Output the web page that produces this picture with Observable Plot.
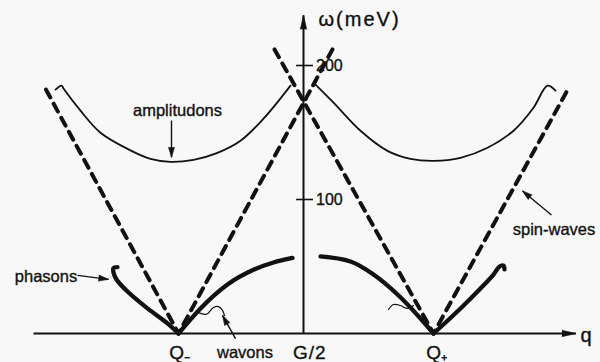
<!DOCTYPE html>
<html>
<head>
<meta charset="utf-8">
<script src="https://cdn.jsdelivr.net/npm/d3@7"></script>
<script src="https://cdn.jsdelivr.net/npm/@observablehq/plot@0.6"></script>
<style>
  html, body { margin: 0; padding: 0; background: #f8f8f8; }
  #chart svg { display: block; background: #f8f8f8; }
</style>
</head>
<body>
<div id="chart"></div>
<script>
// Excitation spectrum of an incommensurate spin-density wave.
// q is measured from the zone point G/2 (q = 0); ω in meV.

const qPoints = ["Q\u208B", "G/2", "Q\u208A"];          // x-axis labels
const qPointValues = [-0.99, 0.05, 1.065];

const yTicks = [100, 200];

// Spin-wave cones (dashed), one V per satellite Q− and Q+
const spinWaveMinus = [[-2.06, 182], [-1.0, 0], [0.232, 212]];
const spinWavePlus  = [[-0.232, 212], [1.04, 0], [2.12, 183]];

// Amplitudon branches (thin solid)
const amplitudonMinus = [
  [-1.984, 182], [-1.936, 185], [-1.92, 182.8], [-1.784, 166.3], [-1.624, 149.8],
  [-1.408, 137.8], [-1.224, 130.3], [-1.064, 128.1], [-0.88, 129.6], [-0.688, 134.8],
  [-0.504, 143.8], [-0.32, 160.3], [-0.104, 185]
];
const amplitudonPlus = [
  [0.088, 186.5], [0.24, 172.3], [0.456, 151.3], [0.672, 136.3], [0.856, 130.3],
  [1.04, 128.8], [1.256, 131.1], [1.472, 138.6], [1.68, 151.3], [1.84, 168.5],
  [1.952, 185], [2.016, 181.3]
];

// Phason / wavon branches (thick solid)
const phasonMinus = [
  [-1.488, 49.6], [-1.52, 48.9], [-1.52, 45.5], [-1.496, 40.3], [-1.408, 31.3],
  [-1.248, 18.7], [-1.088, 7.5], [-1.0, 0]
];
const wavonMinus = [
  [-1.0, 0], [-0.824, 18.7], [-0.608, 36.6], [-0.4, 47.6], [-0.24, 53.0], [-0.088, 56.4]
];
const wavonPlus = [
  [0.136, 57.5], [0.376, 53.7], [0.56, 44], [0.752, 29.1], [0.936, 11.2], [1.04, 0]
];
const phasonPlus = [
  [1.04, 0], [1.256, 18.7], [1.416, 33.6], [1.52, 44], [1.568, 50], [1.6, 50.7], [1.608, 47.8]
];

// Small wavy markers on the wavon branches
const squiggleMinus = [[-0.84, 15.6], [-0.776, 14.4], [-0.72, 19.4], [-0.68, 20.1], [-0.648, 17.2], [-0.632, 13.4]];
const squigglePlus  = [[0.68, 17.9], [0.72, 21.6], [0.776, 20.9], [0.832, 18.7], [0.88, 20.9]];

// Annotations: text, its position, and the pointer arrow (tail → tip)
const noteTexts = ["amplitudons", "phasons", "spin-waves", "wavons"];
const notePos   = [[-1.008, 166.3], [-2.06, 42.7], [2.004, 77.2], [-0.468, -14.4]];
const noteTails = [[-1.056, 158.9], [-1.808, 43.4], [1.984, 88.4], [-0.544, -3.8]];
const noteTips  = [[-1.056, 131.5], [-1.56, 40.4], [1.752, 106.4], [-0.648, 13.5]];

// Axis extents
const qAxis = [-2.16, 2.18];
const wAxis = [0, 237.5];

const W = 600, H = 362;
const X_DOMAIN = [-2.424, 2.376];
const Y_DOMAIN = [-21.64, 248.5];
const ink = "#111";
const font = "'Liberation Sans', Arial, Helvetica, sans-serif";

const sx = Plot.scale({x: {domain: X_DOMAIN, range: [0, W]}});
const sy = Plot.scale({y: {domain: Y_DOMAIN, range: [H, 0]}});
// rotation (degrees clockwise from up) of the screen direction tail → tip
const heading = (a, b) => {
  const dx = sx.apply(b[0]) - sx.apply(a[0]);
  const dy = sy.apply(b[1]) - sy.apply(a[1]);
  return Math.atan2(dx, -dy) * 180 / Math.PI;
};

const notes = noteTexts.map((t, i) => ({
  text: t, pos: notePos[i], tail: noteTails[i], tip: noteTips[i],
  rotate: heading(noteTails[i], noteTips[i])
}));
const axisHeads = [
  {tip: [qAxis[1], 0], rotate: heading([qAxis[0], 0], [qAxis[1], 0])},
  {tip: [0, wAxis[1]], rotate: heading([0, wAxis[0]], [0, wAxis[1]])}
];

const P = d => d[0], V = d => d[1];
const curve = (data, o) => Plot.line(data, {x: P, y: V, stroke: ink, curve: "catmull-rom",
  strokeLinecap: "round", strokeLinejoin: "round", ...o});
const label = {fill: ink, stroke: ink, strokeWidth: 0.35};

const chart = Plot.plot({
  width: W, height: H,
  margin: 0,
  style: {background: "#f8f8f8", fontFamily: font, color: ink},
  x: {domain: X_DOMAIN, range: [0, W], axis: null},
  y: {domain: Y_DOMAIN, range: [H, 0], axis: null},
  marks: [
    // axes
    Plot.link([qAxis], {x1: d => d[0], x2: d => d[1], y1: 0, y2: 0, stroke: ink, strokeWidth: 2}),
    Plot.link([wAxis], {x1: 0, x2: 0, y1: d => d[0], y2: d => d[1], stroke: ink, strokeWidth: 2}),
    Plot.vector(axisHeads, {x: d => d.tip[0], y: d => d.tip[1], rotate: "rotate",
      length: 14, r: 3.2, shape: "spike", anchor: "end",
      fill: ink, fillOpacity: 1, stroke: ink, strokeWidth: 0.6}),
    Plot.ruleY(yTicks, {y: d => d, x1: -0.055, x2: 0.08, stroke: ink, strokeWidth: 1.6}),
    Plot.text(yTicks, {y: d => d, x: 0.1, text: d => String(d), textAnchor: "start",
      fontSize: 16, ...label}),
    Plot.text(["\u03c9(meV)"], {x: 0.12, y: 234.5, text: d => d, textAnchor: "start", fontSize: 20, ...label}),
    Plot.text(["q"], {x: 2.216, y: -1.5, text: d => d, textAnchor: "start", fontSize: 20, ...label}),
    Plot.text(qPoints, {x: (d, i) => qPointValues[i], y: -14.4, text: d => d, fontSize: 19, ...label}),

    // spin waves
    Plot.line(spinWaveMinus, {x: P, y: V, stroke: ink, strokeWidth: 4, strokeDasharray: "9,7"}),
    Plot.line(spinWavePlus, {x: P, y: V, stroke: ink, strokeWidth: 4, strokeDasharray: "9,7"}),

    // amplitudons
    curve(amplitudonMinus, {strokeWidth: 1.8}),
    curve(amplitudonPlus, {strokeWidth: 1.8}),

    // phasons & wavons
    curve(phasonMinus, {strokeWidth: 4.3}),
    curve(wavonMinus, {strokeWidth: 4.3, curve: "monotone-x"}),
    curve(wavonPlus, {strokeWidth: 4.3, curve: "monotone-x"}),
    curve(phasonPlus, {strokeWidth: 4.3}),
    curve(squiggleMinus, {strokeWidth: 1.2}),
    curve(squigglePlus, {strokeWidth: 1.2}),

    // annotations
    Plot.link(notes, {x1: d => d.tail[0], y1: d => d.tail[1], x2: d => d.tip[0], y2: d => d.tip[1],
      stroke: ink, strokeWidth: 1.4}),
    Plot.vector(notes, {x: d => d.tip[0], y: d => d.tip[1], rotate: "rotate",
      length: 10, r: 3, shape: "spike", anchor: "end",
      fill: ink, fillOpacity: 1, stroke: ink, strokeWidth: 0.6}),
    Plot.text(notes, {x: d => d.pos[0], y: d => d.pos[1], text: "text", fontSize: 16.5, ...label})
  ]
});

// the hand-set axis labels are loosely spaced
const spacing = {"G/2": "1px", "\u03c9(meV)": "2px"};
d3.select(chart).selectAll("text").each(function () {
  const s = spacing[this.textContent];
  if (s) this.style.letterSpacing = s;
});

document.getElementById("chart").append(chart);
</script>
</body>
</html>
